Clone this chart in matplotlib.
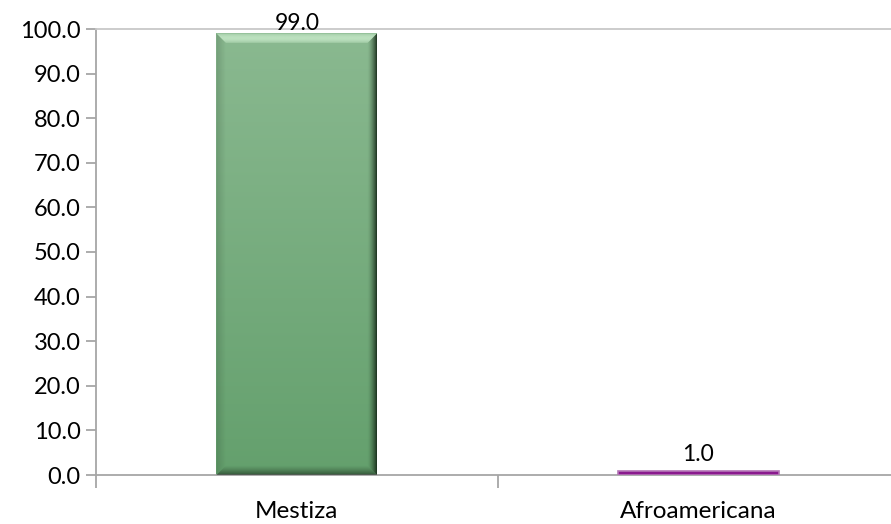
import numpy as np
import matplotlib
matplotlib.use("Agg")
import matplotlib.pyplot as plt
from matplotlib.patches import Rectangle, Polygon
from matplotlib.colors import to_rgb

categories = ["Mestiza", "Afroamericana"]
values = [99.0, 1.0]
yticks = [0, 10, 20, 30, 40, 50, 60, 70, 80, 90, 100]

plt.rcParams['font.family'] = ['Lato', 'DejaVu Sans']

W, H, DPI = 891, 524, 100
fig = plt.figure(figsize=(W / DPI, H / DPI), dpi=DPI)
left_px, right_px = 96, 891
cat_px = 401.5
ax = fig.add_axes([left_px / W, 49 / H, (right_px - left_px) / W, 446 / H])
ax.set_xlim(-0.5, -0.5 + (right_px - left_px) / cat_px)
ax.set_ylim(0, 100)

grey = "#a6a6a6"
ax.spines["right"].set_visible(False)
for s in ["left", "bottom", "top"]:
    ax.spines[s].set_color(grey)
    ax.spines[s].set_linewidth(1.3)
ax.spines["top"].set_color("#c8c8c8")

ax.set_yticks(yticks)
ax.set_yticklabels([f"{v:.1f}" for v in yticks])
ax.set_xticks([0, 1])
ax.set_xticklabels(categories)
ax.set_xticks([-0.5, 0.5], minor=True)
ax.tick_params(axis="x", which="major", length=0, pad=19, labelsize=17.5)
ax.tick_params(axis="x", which="minor", length=9, color=grey, width=1.3)
ax.tick_params(axis="y", length=7, color=grey, width=1.3, labelsize=17, pad=4)

bar_w = 0.4


def shade(poly, rgb, alphas, horizontal, extent):
    """Fill a polygon with a single colour whose opacity ramps along one direction."""
    a = np.asarray(alphas)
    if horizontal:
        img = np.zeros((1, len(a), 4))
        img[0, :, :3] = rgb
        img[0, :, 3] = a
    else:
        img = np.zeros((len(a), 1, 4))
        img[:, 0, :3] = rgb
        img[:, 0, 3] = a
    patch = Polygon(poly, closed=True, facecolor="none", edgecolor="none")
    ax.add_patch(patch)
    im = ax.imshow(img, extent=extent, origin="lower", aspect="auto",
                   interpolation="bilinear", zorder=3)
    im.set_clip_path(patch)


def bevel_bar(x, h, top_col, bot_col, light, dark, edge_px=10):
    x0, x1 = x - bar_w / 2, x + bar_w / 2
    # vertical gradient body
    grad = np.linspace(0, 1, 256)[:, None]
    c_top = np.array(to_rgb(top_col))
    c_bot = np.array(to_rgb(bot_col))
    img = c_bot[None, None, :] * (1 - grad[..., None]) + c_top[None, None, :] * grad[..., None]
    ax.imshow(img, extent=(x0, x1, 0, h), origin="lower", aspect="auto", zorder=2)
    dx = min(edge_px / cat_px, bar_w / 2)
    dy = min(edge_px * 100.0 / 446, h / 2)
    lt, dk = np.array(to_rgb(light)), np.array(to_rgb(dark))
    ramp = np.linspace(0, 1, 32)
    # top bevel: bright highlight
    shade([(x0, h), (x1, h), (x1 - dx, h - dy), (x0 + dx, h - dy)], lt,
          0.25 + 0.55 * np.sin(ramp * np.pi) ** 0.7, False, (x0, x1, h - dy, h))
    # left bevel: faint darkening
    shade([(x0, h), (x0 + dx, h - dy), (x0 + dx, dy), (x0, 0)], dk,
          0.18 * (1 - ramp), True, (x0, x0 + dx, 0, h))
    # right bevel: dark gradient towards the edge
    shade([(x1, h), (x1 - dx, h - dy), (x1 - dx, dy), (x1, 0)], dk,
          0.9 * ramp ** 1.6, True, (x1 - dx, x1, 0, h))
    # bottom bevel: shadow
    shade([(x0, 0), (x0 + dx, dy), (x1 - dx, dy), (x1, 0)], dk,
          0.6 * (1 - ramp) ** 1.3, False, (x0, x1, 0, dy))


def flat_bar(x, h, face, edge):
    ax.add_patch(Rectangle((x - bar_w / 2, 0), bar_w, h, facecolor=face,
                           edgecolor=edge, linewidth=1.2, zorder=3))


bevel_bar(0, values[0], "#8ab990", "#64a06d", "#c9ebcb", "#142616")
flat_bar(1, values[1], "#8a1a8e", "#b476b6")

offsets = [-1, 6]
for i, v in enumerate(values):
    ax.annotate(f"{v:.1f}", (i, v), xytext=(0, offsets[i]), textcoords="offset pixels",
                ha="center", va="bottom", fontsize=16.5, color="black", zorder=5)

fig.savefig("out.png", dpi=DPI)
